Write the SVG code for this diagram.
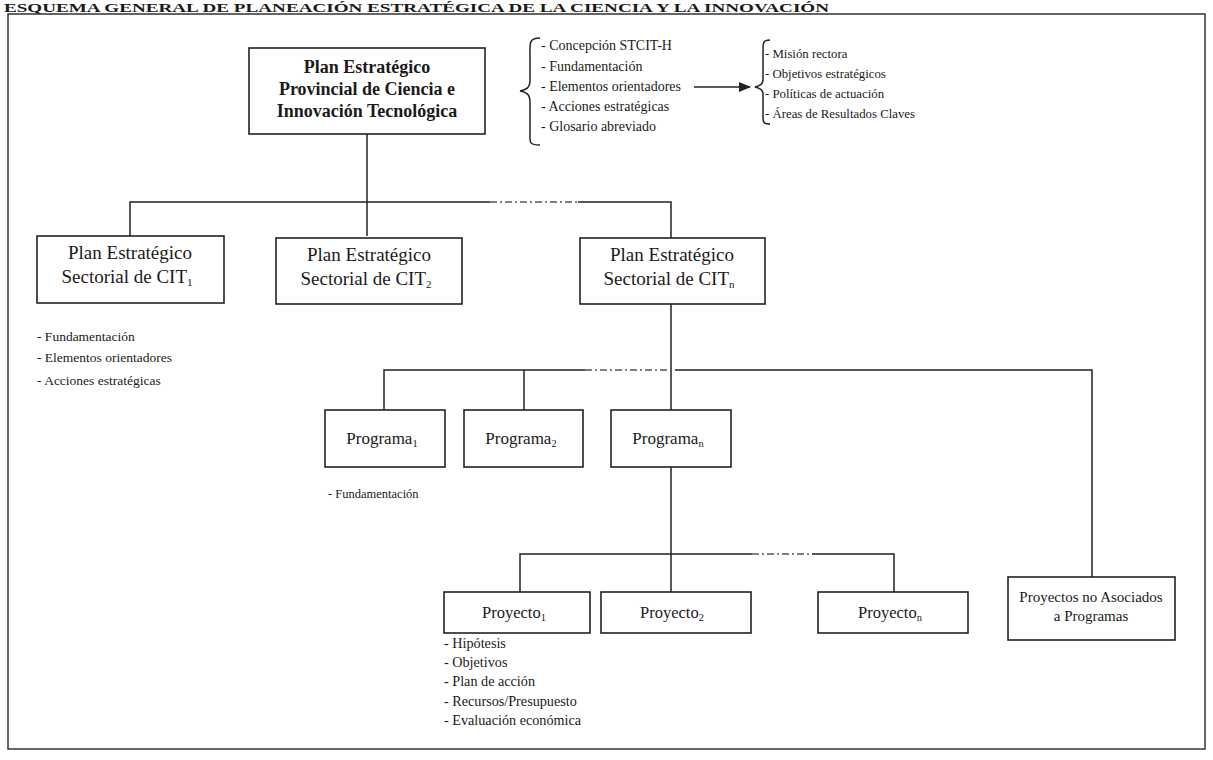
<svg xmlns="http://www.w3.org/2000/svg" width="1213" height="760" viewBox="0 0 1213 760">
<style>
  .t{font-family:"Liberation Serif","Times New Roman",serif;fill:#1a1a1a}
  .box{fill:#fff;stroke:#222;stroke-width:1.6}
  .ln{stroke:#222;stroke-width:1.5;fill:none}
  .dash{stroke:#555;stroke-width:1.4;stroke-dasharray:7 3 2 3;fill:none}
  .bt{font-size:19px;text-anchor:middle}
  .nt{font-size:13.5px}
</style>
<defs>
  <marker id="ah" markerWidth="12" markerHeight="10" refX="11" refY="5" orient="auto" markerUnits="userSpaceOnUse">
    <path d="M0,0 L12,5 L0,10 Z" fill="#222"/>
  </marker>
</defs>
<rect width="1213" height="760" fill="#fff"/>
<text class="t" x="4" y="11.5" font-size="13.5" font-weight="bold" textLength="825" lengthAdjust="spacingAndGlyphs">ESQUEMA GENERAL DE PLANEACIÓN ESTRATÉGICA DE LA CIENCIA Y LA INNOVACIÓN</text>
<rect x="8" y="14" width="1197" height="735" fill="none" stroke="#333" stroke-width="1.5"/>

<g id="connectors">
  <path class="ln" d="M367,134 V236"/>
  <path class="ln" d="M130,236 V202 H490 M578,202 H671 V238"/>
  <path class="dash" d="M490,202 H578"/>
  <path class="ln" d="M671,304 V410"/>
  <path class="ln" d="M384,410 V370 H585 M675,370 H1092 V577"/>
  <path class="dash" d="M585,370 H675"/>
  <path class="ln" d="M524,370 V410"/>
  <path class="ln" d="M671,467 V592"/>
  <path class="ln" d="M520,592 V554 H752 M812,554 H894 V592"/>
  <path class="dash" d="M752,554 H812"/>
  <path class="ln" d="M694,87 H750" marker-end="url(#ah)"/>
</g>

<g id="plan-provincial">
  <rect class="box" x="249" y="48" width="236" height="86"/>
  <text class="t" text-anchor="middle" font-weight="bold" font-size="18"><tspan x="367" y="73">Plan Estratégico</tspan><tspan x="367" y="95">Provincial de Ciencia  e</tspan><tspan x="367" y="117">Innovación Tecnológica</tspan></text>
</g>

<g id="contenido-provincial">
  <path class="ln" d="M540,38 C528,38 530,44 530,60 L530,80 C530,88 526,90 520,91 C526,92 530,94 530,102 L530,130 C530,142 528,145 540,145" stroke-width="1.3"/>
  <text class="t" font-size="14"><tspan x="541" y="50">- Concepción STCIT-H</tspan><tspan x="541" y="71">- Fundamentación</tspan><tspan x="541" y="91">- Elementos orientadores</tspan><tspan x="541" y="111">- Acciones estratégicas</tspan><tspan x="541" y="131">- Glosario abreviado</tspan></text>
</g>

<g id="elementos-orientadores">
  <path class="ln" d="M770,40 C763,40 763,43 763,50 L763,80 C763,84 760,86 755,87 C760,88 763,90 763,94 L763,117 C763,123 764,124 770,124" stroke-width="1.2"/>
  <text class="t" font-size="12.8"><tspan x="765" y="58">- Misión rectora</tspan><tspan x="765" y="78">- Objetivos estratégicos</tspan><tspan x="765" y="98">- Políticas de actuación</tspan><tspan x="765" y="118">- Áreas de Resultados Claves</tspan></text>
</g>

<g id="sectorial-1">
  <rect class="box" x="37" y="236" width="187" height="67"/>
  <text class="t bt"><tspan x="130" y="259">Plan Estratégico</tspan><tspan x="127" y="283">Sectorial de CIT</tspan><tspan font-size="11" dy="3">1</tspan></text>
</g>
<g id="sectorial-2">
  <rect class="box" x="276" y="238" width="186" height="66"/>
  <text class="t bt"><tspan x="369" y="261">Plan Estratégico</tspan><tspan x="366" y="285">Sectorial de CIT</tspan><tspan font-size="11" dy="3">2</tspan></text>
</g>
<g id="sectorial-n">
  <rect class="box" x="580" y="238" width="185" height="66"/>
  <text class="t bt"><tspan x="672" y="261">Plan Estratégico</tspan><tspan x="669" y="285">Sectorial de CIT</tspan><tspan font-size="11" dy="3">n</tspan></text>
</g>

<g id="contenido-sectorial">
  <text class="t nt"><tspan x="37" y="341">- Fundamentación</tspan><tspan x="37" y="362">- Elementos orientadores</tspan><tspan x="37" y="385">- Acciones estratégicas</tspan></text>
</g>

<g id="programa-1">
  <rect class="box" x="325" y="410" width="120" height="57"/>
  <text class="t" font-size="17" text-anchor="middle" x="382" y="444">Programa<tspan font-size="10.5" dy="3">1</tspan></text>
</g>
<g id="programa-2">
  <rect class="box" x="464" y="410" width="119" height="57"/>
  <text class="t" font-size="17" text-anchor="middle" x="521" y="444">Programa<tspan font-size="10.5" dy="3">2</tspan></text>
</g>
<g id="programa-n">
  <rect class="box" x="611" y="410" width="120" height="57"/>
  <text class="t" font-size="17" text-anchor="middle" x="668" y="444">Programa<tspan font-size="10.5" dy="3">n</tspan></text>
</g>
<g id="contenido-programa">
  <text class="t" font-size="12.5" x="328" y="498">- Fundamentación</text>
</g>

<g id="proyecto-1">
  <rect class="box" x="444" y="592" width="146" height="41"/>
  <text class="t" font-size="16.5" text-anchor="middle" x="514" y="618">Proyecto<tspan font-size="10.5" dy="3">1</tspan></text>
</g>
<g id="proyecto-2">
  <rect class="box" x="601" y="592" width="150" height="41"/>
  <text class="t" font-size="16.5" text-anchor="middle" x="672" y="618">Proyecto<tspan font-size="10.5" dy="3">2</tspan></text>
</g>
<g id="proyecto-n">
  <rect class="box" x="818" y="592" width="150" height="41"/>
  <text class="t" font-size="16.5" text-anchor="middle" x="890" y="618">Proyecto<tspan font-size="10.5" dy="3">n</tspan></text>
</g>
<g id="contenido-proyecto">
  <text class="t" font-size="14.2"><tspan x="444" y="648">- Hipótesis</tspan><tspan x="444" y="667">- Objetivos</tspan><tspan x="444" y="686">- Plan de acción</tspan><tspan x="444" y="706">- Recursos/Presupuesto</tspan><tspan x="444" y="725">- Evaluación económica</tspan></text>
</g>

<g id="proyectos-no-asociados">
  <rect class="box" x="1008" y="577" width="167" height="63"/>
  <text class="t" font-size="15" text-anchor="middle"><tspan x="1091" y="602">Proyectos no Asociados</tspan><tspan x="1091" y="621">a Programas</tspan></text>
</g>
</svg>
